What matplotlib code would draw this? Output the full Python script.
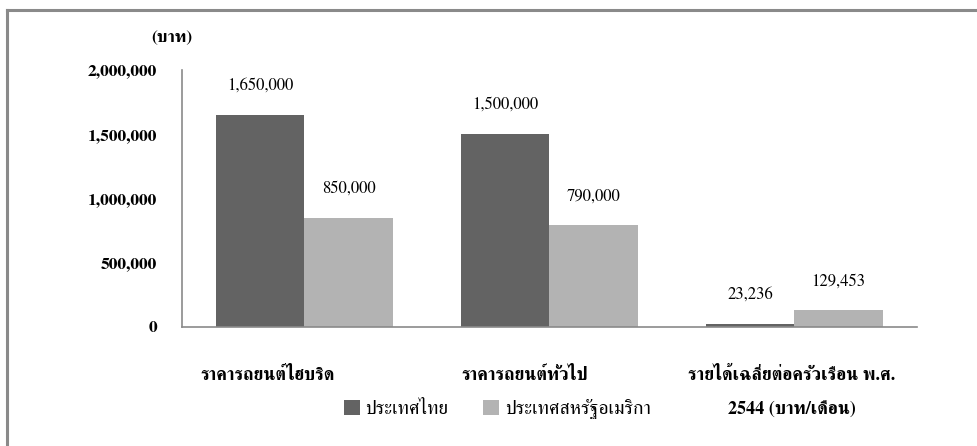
import numpy as np
import matplotlib
matplotlib.use("Agg")
import matplotlib.pyplot as plt
from matplotlib.lines import Line2D
from matplotlib.ticker import FuncFormatter

categories = ["ราคารถยนต์ไฮบริด", "ราคารถยนต์ทั่วไป",
              "รายได้เฉลี่ยต่อครัวเรือน พ.ศ.\n2544 (บาท/เดือน)"]
series_names = ["ประเทศไทย", "ประเทศสหรัฐอเมริกา"]
thailand = [1650000, 1500000, 23236]
usa = [850000, 790000, 129453]
y_ticks = [0, 500000, 1000000, 1500000, 2000000]
unit_label = "(บาท)"

DARK = "#636363"
LIGHT = "#b3b3b3"
EDGE = "#8a8a8a"
FONT = ["FreeSerif", "DejaVu Serif"]

fig = plt.figure(figsize=(9.78, 4.46), dpi=100)
ax = fig.add_axes([182 / 978, 119 / 446, 735 / 978, 257 / 446])

x = np.arange(len(categories))
w = 0.36
b1 = ax.bar(x - w / 2, thailand, w, color=DARK, label=series_names[0])
b2 = ax.bar(x + w / 2, usa, w, color=LIGHT, label=series_names[1])

for bars in (b1, b2):
    for rect in bars:
        v = rect.get_height()
        ax.annotate(f"{v:,.0f}", (rect.get_x() + rect.get_width() / 2, v),
                    xytext=(0, 21), textcoords="offset points",
                    ha="center", va="center", fontsize=12, family=FONT)

ax.set_xlim(-0.5, len(categories) - 0.5)
ax.set_ylim(0, 2000000)
ax.set_yticks(y_ticks)
ax.yaxis.set_major_formatter(FuncFormatter(lambda v, p: f"{v:,.0f}"))
ax.tick_params(axis="y", length=0, pad=18)
ax.tick_params(axis="x", length=0)
ax.set_xticks([])
for lab in ax.get_yticklabels():
    lab.set_family(FONT)
    lab.set_fontweight("bold")
    lab.set_fontsize(12.5)

for s in ("top", "right"):
    ax.spines[s].set_visible(False)
for s in ("left", "bottom"):
    ax.spines[s].set_color(EDGE)
    ax.spines[s].set_linewidth(1.2)

# category names sit under the groups, a little off-centre;
# each line of a name is placed on its own row
cat_x = [268, 525, 792]
row_y = [375, 410]
for cx, name in zip(cat_x, categories):
    for ry, line in zip(row_y, name.split("\n")):
        fig.text(cx / 978, 1 - ry / 446, line, ha="center", va="center",
                 fontsize=13, fontweight="bold", family=FONT)

fig.text(172 / 978, 1 - 38 / 446, unit_label, ha="center", va="center",
         fontsize=12.5, fontweight="bold", family=FONT)

fig.legend(handles=[b1, b2], labels=series_names,
           loc="center left", bbox_to_anchor=(344 / 978, 1 - 409 / 446),
           ncol=2, frameon=False, prop={"family": FONT, "size": 14},
           handlelength=0.8, handleheight=0.8, handletextpad=0.3,
           columnspacing=1.8, borderpad=0, borderaxespad=0)

# outer frame, only top and left edges show
fig.add_artist(Line2D([7 / 978, 1], [1 - 9.5 / 446] * 2, color=EDGE, lw=2.2,
                      transform=fig.transFigure))
fig.add_artist(Line2D([7 / 978] * 2, [0, 1 - 9.5 / 446], color=EDGE, lw=2.2,
                      transform=fig.transFigure))

fig.savefig("out.png", dpi=100)
